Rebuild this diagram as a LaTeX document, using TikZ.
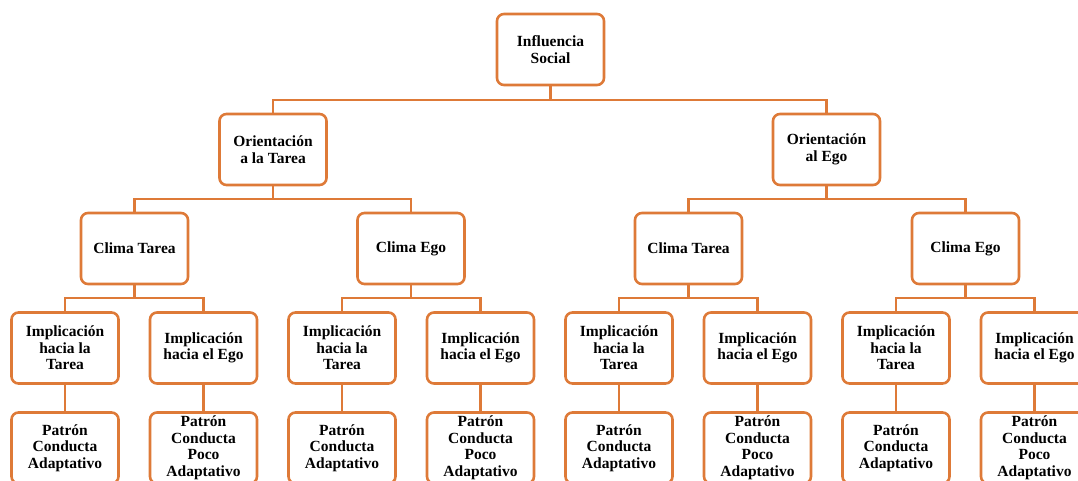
\documentclass[tikz,border=0pt]{standalone}
\usepackage{fontspec}
\setmainfont{Liberation Serif}
\definecolor{boxorange}{RGB}{222,122,56}
% parent -> two children through a horizontal bar at height #4
\newcommand\branchpair[4]{%
  \draw[link] (#1.south) -- (#1.south |- 0,#4);
  \draw[link] (#2.north) -- (#2.north |- 0,#4) -- (#3.north |- 0,#4) -- (#3.north);
}
\begin{document}
\begin{tikzpicture}[x=1pt,y=-1pt,
  box/.style={draw=boxorange, line width=2.6pt, rounded corners=7pt, fill=white,
    minimum width=107pt, minimum height=71pt, inner sep=0pt, align=center,
    font=\fontsize{15.5}{16.5}\selectfont\bfseries},
  link/.style={draw=boxorange, line width=2.6pt}]
\useasboundingbox (0,0) rectangle (1078,480);

% level 1 and 2
\node[box] (top) at (550.5,49.5) {Influencia\\Social};
\node[box] (o1) at (273,149.5) {Orientación\\a la Tarea};
\node[box] (o2) at (826.5,149.5) {Orientación\\al Ego};

% level 3: climates
\node[box] (c1) at (134.5,248.5) {Clima Tarea};
\node[box] (c2) at (411,248.5) {Clima Ego};
\node[box] (c3) at (688.5,248.5) {Clima Tarea};
\node[box] (c4) at (965.5,248.5) {Clima Ego};

% levels 4 and 5: involvement and behaviour pattern
\foreach \k/\xx in {1/65,3/342,5/619,7/896}{
  \node[box] (i\k) at (\xx,348) {Implicación\\hacia la\\Tarea};
  \node[box] (p\k) at (\xx,448) {Patrón\\Conducta\\Adaptativo};
  \draw[link] (i\k.south) -- (p\k.north);
}
\foreach \k/\xx in {2/203.5,4/480.5,6/757.5,8/1034.5}{
  \node[box] (i\k) at (\xx,348) {Implicación\\hacia el Ego};
  \node[box] (p\k) at (\xx,448) {Patrón\\Conducta\\Poco\\Adaptativo};
  \draw[link] (i\k.south) -- (p\k.north);
}

% tree connectors
\branchpair{top}{o1}{o2}{100}
\branchpair{o1}{c1}{c2}{199}
\branchpair{o2}{c3}{c4}{199}
\branchpair{c1}{i1}{i2}{298}
\branchpair{c2}{i3}{i4}{298}
\branchpair{c3}{i5}{i6}{298}
\branchpair{c4}{i7}{i8}{298}
\end{tikzpicture}
\end{document}
